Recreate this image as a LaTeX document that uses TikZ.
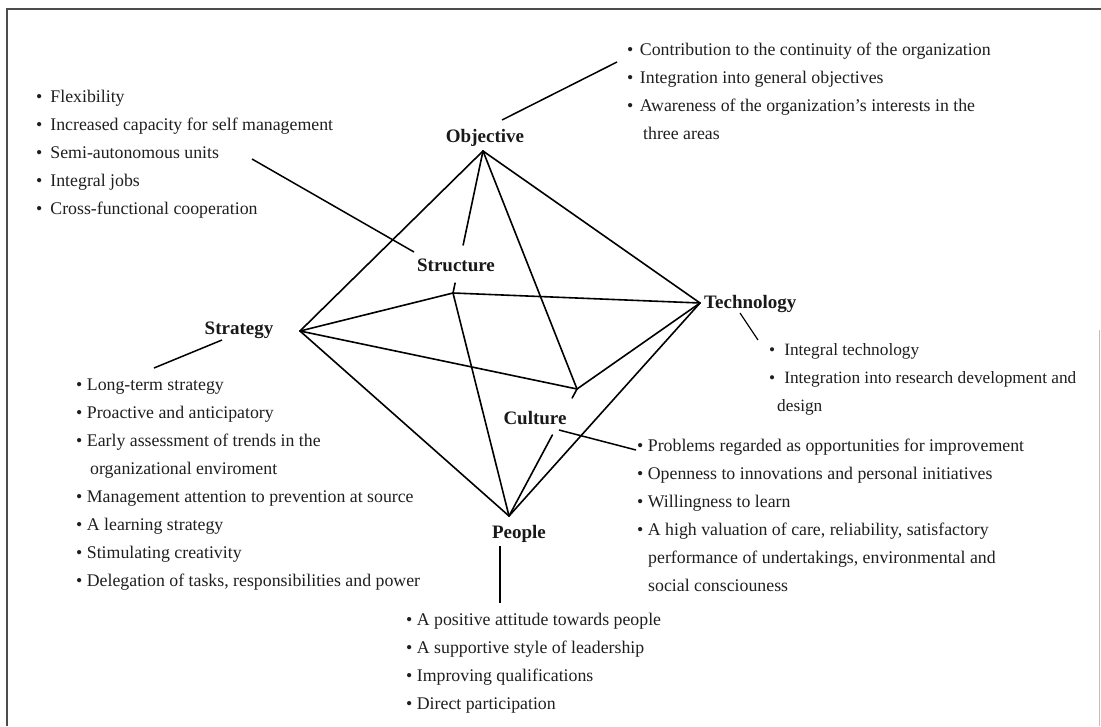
\documentclass[tikz,border=0pt]{standalone}
\usepackage{fontspec}
\setmainfont{Liberation Serif}
\usetikzlibrary{calc}
\begin{document}
\begin{tikzpicture}[x=1pt,y=-1pt,
  lbl/.style={font=\fontsize{19}{22}\selectfont\bfseries, inner sep=0pt, text=black!90},
  lst/.style={font=\fontsize{17.8}{28}\selectfont, align=left, inner sep=0pt, anchor=north west, text=black!88},
  edgeline/.style={line width=1.6pt, line cap=round},
  ptr/.style={line width=1.5pt},
  frameline/.style={line width=1.3pt, black!70}]
\useasboundingbox (0,0) rectangle (1101,726);
\fill[white] (0,0) rectangle (1101,726);
% frame
\coordinate (f1) at (7,726);
\coordinate (f2) at (7,9);
\coordinate (f3) at (1101,9);
\draw[frameline] (f1) -- (f2) -- (f3);
\coordinate (f4) at (1099,330);
\coordinate (f5) at (1099,726);
\draw[line width=1pt, black!25] (f4) -- (f5);

% vertices
\coordinate (obj) at (483,151);
\coordinate (str) at (453,293);
\coordinate (stg) at (300,331);
\coordinate (tec) at (700,303);
\coordinate (cul) at (577,389);
\coordinate (peo) at (509,516);

% labels
\node[lbl] (objL) at (485,138) {Objective};
\node[lbl] (strL) at (456,265) {Structure};
\node[lbl] (stgL) at (239,330) {Strategy};
\node[lbl, anchor=west] (tecL) at (704,304) {Technology};
\node[lbl] (culL) at (535,418) {Culture};
\node[lbl] (peoL) at (519,534) {People};

% octahedron edges
\draw[edgeline] (obj) -- (stg);
\draw[edgeline] (obj) -- ($(obj)!0.662!(str)$);
\draw[edgeline] ($(obj)!0.93!(str)$) -- (str);
\draw[edgeline] (obj) -- (cul);
\draw[edgeline] (obj) -- (tec);
\draw[edgeline] (stg) -- (str) -- (tec);
\draw[edgeline] (stg) -- (cul) -- (tec);
\draw[edgeline] (stg) -- (peo);
\draw[edgeline] (str) -- (peo);
\draw[edgeline] (tec) -- (peo);
\draw[edgeline] (cul) -- ($(cul)!0.071!(peo)$);
\draw[edgeline] ($(cul)!0.362!(peo)$) -- (peo);

% pointer lines
\coordinate (po1) at (502,120); \coordinate (po2) at (617,62);
\draw[ptr] (po1) -- (po2);
\coordinate (ps1) at (252,159); \coordinate (ps2) at (414,252);
\draw[ptr] (ps1) -- (ps2);
\coordinate (pg1) at (222,340); \coordinate (pg2) at (154,368);
\draw[ptr] (pg1) -- (pg2);
\coordinate (pt1) at (740,313); \coordinate (pt2) at (758,340);
\draw[line width=1.2pt] (pt1) -- (pt2);
\coordinate (pc1) at (559,430); \coordinate (pc2) at (636,450);
\draw[ptr] (pc1) -- (pc2);
\coordinate (pp1) at (500,546); \coordinate (pp2) at (500,603);
\draw[line width=1.2pt] (pp1) -- (pp2);

% lists
\node[lst] (objList) at (627,43) {%
•\hspace{6.5pt}Contribution to the continuity of the organization\\
•\hspace{6.5pt}Integration into general objectives\\
•\hspace{6.5pt}Awareness of the organization’s interests in the\\
\hspace*{16pt}three areas};

\node[lst] (strList) at (36,90) {%
•\hspace{8pt}Flexibility\\
•\hspace{8pt}Increased capacity for self management\\
•\hspace{8pt}Semi-autonomous units\\
•\hspace{8pt}Integral jobs\\
•\hspace{8pt}Cross-functional cooperation};

\node[lst] (stgList) at (76,379) {%
• Long-term strategy\\
• Proactive and anticipatory\\
• Early assessment of trends in the\\
\hspace*{14pt}organizational enviroment\\
• Management attention to prevention at source\\
• A learning strategy\\
• Stimulating creativity\\
• Delegation of tasks, responsibilities and power};

\node[lst, font=\fontsize{17.3}{28}\selectfont] (tecList) at (769,343) {%
•\hspace{9pt}Integral technology\\
•\hspace{9pt}Integration into research development and\\
\hspace*{8pt}design};

\node[lst] (culList) at (637,439) {%
• Problems regarded as opportunities for improvement\\
• Openness to innovations and personal initiatives\\
• Willingness to learn\\
• A high valuation of care, reliability, satisfactory\\
\hspace*{11pt}performance of undertakings, environmental and\\
\hspace*{11pt}social consciouness};

\node[lst] (peoList) at (406,613) {%
• A positive attitude towards people\\
• A supportive style of leadership\\
• Improving qualifications\\
• Direct participation};
\end{tikzpicture}
\end{document}
